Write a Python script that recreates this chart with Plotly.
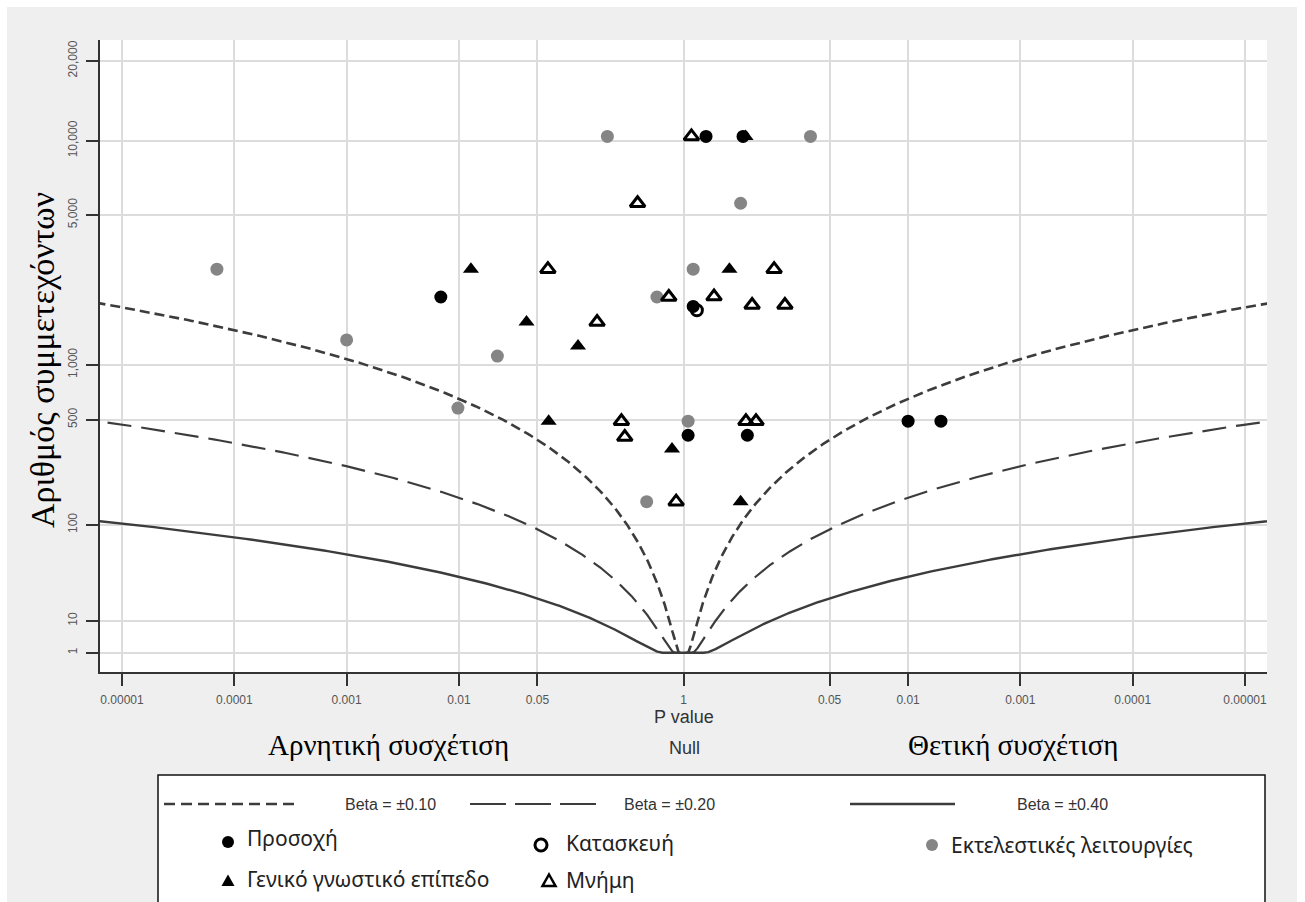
import math
import numpy as np
import plotly.graph_objects as go

# ---------------- data (p value, sample size, direction: -1 negative / +1 positive) -------------
attention_p = [0.63, 0.295, 0.0069, 0.82, 0.010, 0.0051, 0.91, 0.27]
attention_n = [10400, 10400, 2160, 1950, 490, 490, 405, 405]
attention_dir = [1, 1, -1, 1, 1, 1, 1, 1]

construct_p = [0.76]
construct_n = [1870]
construct_dir = [1]

exec_p = [0.21, 0.074, 0.00007, 0.31, 0.82, 0.58, 0.001, 0.022, 0.0098, 0.91, 0.47]
exec_n = [10400, 10400, 2900, 5600, 2900, 2160, 1340, 1110, 583, 490, 149]
exec_dir = [-1, 1, -1, 1, 1, -1, -1, -1, -1, 1, -1]

general_p = [0.28, 0.0128, 0.39, 0.040, 0.115, 0.063, 0.79, 0.31]
general_n = [10400, 2900, 2900, 1640, 1250, 490, 334, 149]
general_dir = [1, -1, 1, -1, -1, -1, -1, 1]

memory_p = [0.85, 0.39, 0.062, 0.156, 0.74, 0.535, 0.245, 0.125, 0.17, 0.28, 0.30, 0.278, 0.226, 0.86]
memory_n = [10400, 5600, 2900, 2900, 2160, 2170, 1980, 1980, 1640, 490, 395, 490, 490, 149]
memory_dir = [1, -1, -1, 1, -1, 1, 1, 1, -1, -1, -1, 1, 1, -1]

betas = [0.10, 0.20, 0.40]
beta_labels = ["Beta = \u00b10.10", "Beta = \u00b10.20", "Beta = \u00b10.40"]

p_ticks = [0.00001, 0.0001, 0.001, 0.01, 0.05, 1, 0.05, 0.01, 0.001, 0.0001, 0.00001]
p_tick_dir = [-1, -1, -1, -1, -1, 0, 1, 1, 1, 1, 1]
p_tick_text = ["0.00001", "0.0001", "0.001", "0.01", "0.05", "1", "0.05", "0.01", "0.001", "0.0001", "0.00001"]
n_ticks = [1, 10, 100, 500, 1000, 5000, 10000, 20000]
n_tick_text = ["1", "10", "100", "500", "1,000", "5,000", "10,000", "20,000"]


# ---------------- scale helpers ----------------
def xpos(p, d):
    return [di * -math.log10(pi) for pi, di in zip(p, d)]


def ypos(n):
    return [math.log10(v) ** 2 for v in n]


W, H = 1305, 902
L, R, T, B = 100, 38, 40, 230
PW, PH = W - L - R, H - T - B


def X(px):
    return (px - L) / PW


def Y(py):
    return (H - B - py) / PH


fig = go.Figure()

# contours
dashes = ["10px,5px", "24px,10px", "solid"]
widths = [2.6, 2.2, 2.4]
for b, dsh, w in zip(betas, dashes, widths):
    n = np.logspace(0, 4.7, 900)
    z = b * np.sqrt(n) / math.sqrt(1 - b * b)
    p = np.array([math.erfc(v / math.sqrt(2)) for v in z])
    keep = p > 1e-7
    n, p = n[keep], p[keep]
    lp = -np.log10(p)
    xs = np.concatenate([-lp[::-1], lp])
    ys = np.concatenate([(np.log10(n) ** 2)[::-1], np.log10(n) ** 2])
    fig.add_trace(go.Scatter(x=xs, y=ys, mode="lines",
                             line=dict(color="#3c3c3c", width=w, dash=dsh),
                             hoverinfo="skip"))

# studies
fig.add_trace(go.Scatter(x=xpos(exec_p, exec_dir), y=ypos(exec_n), mode="markers",
                         marker=dict(symbol="circle", size=13, color="#858585")))
fig.add_trace(go.Scatter(x=xpos(attention_p, attention_dir), y=ypos(attention_n), mode="markers",
                         marker=dict(symbol="circle", size=13, color="#000000")))
fig.add_trace(go.Scatter(x=xpos(construct_p, construct_dir), y=ypos(construct_n), mode="markers",
                         marker=dict(symbol="circle-open", size=11, color="#000000", line=dict(width=3))))
fig.add_trace(go.Scatter(x=xpos(general_p, general_dir), y=ypos(general_n), mode="markers",
                         marker=dict(symbol="triangle-up", size=14, color="#000000")))
fig.add_trace(go.Scatter(x=xpos(memory_p, memory_dir), y=ypos(memory_n), mode="markers",
                         marker=dict(symbol="triangle-up-open", size=13, color="#000000", line=dict(width=3))))

tickx = [-v if d < 0 else v for v, d in zip([-math.log10(p) for p in p_ticks], p_tick_dir)]
ticky = ypos(n_ticks)

tickfont = dict(family="Liberation Sans, Arial", size=12, color="#555555")

fig.update_xaxes(range=[-5.196, 5.196], tickmode="array", tickvals=tickx, ticktext=p_tick_text,
                 showgrid=True, gridcolor="#dcdcdc", gridwidth=2, zeroline=False,
                 showline=True, linecolor="#333333", linewidth=2,
                 ticks="outside", ticklen=12, tickwidth=2, tickcolor="#333333",
                 tickfont=tickfont, ticklabelstandoff=4)
fig.update_yaxes(range=[-0.6, 19.15], tickmode="array", tickvals=ticky, ticktext=n_tick_text,
                 showgrid=True, gridcolor="#dcdcdc", gridwidth=2, zeroline=False,
                 showline=True, linecolor="#333333", linewidth=2,
                 ticks="outside", ticklen=12, tickwidth=2, tickcolor="#333333",
                 tickangle=-90, tickfont=tickfont, ticklabelstandoff=4)

shapes = []
# white outer border strips
shapes.append(dict(type="rect", xref="paper", yref="paper", x0=X(0), x1=X(7), y0=Y(H), y1=Y(0),
                   fillcolor="white", line=dict(width=0), layer="below"))
shapes.append(dict(type="rect", xref="paper", yref="paper", x0=X(0), x1=X(W), y0=Y(7), y1=Y(0),
                   fillcolor="white", line=dict(width=0), layer="below"))
shapes.append(dict(type="rect", xref="paper", yref="paper", x0=X(1297), x1=X(W), y0=Y(H), y1=Y(0),
                   fillcolor="white", line=dict(width=0), layer="below"))
# legend box
shapes.append(dict(type="rect", xref="paper", yref="paper", x0=X(158), x1=X(1265), y0=Y(906), y1=Y(775),
                   fillcolor="white", line=dict(color="#111111", width=1.5)))

annotations = []
serif = "Liberation Serif, Times New Roman, serif"
sans = "Liberation Sans, Arial, sans-serif"
noto = "Noto Sans, Open Sans, sans-serif"


def ann(text, px, py, size, family, color="#222222", xanchor="center", angle=0):
    annotations.append(dict(text=text, x=X(px), y=Y(py), xref="paper", yref="paper",
                            showarrow=False, xanchor=xanchor, yanchor="middle", textangle=angle,
                            font=dict(size=size, family=family, color=color)))


ann("P value", 684, 717, 18, sans, "#333333")
ann("Null", 684, 748, 18, sans, "#333333")
ann("Αρνητική συσχέτιση", 388, 745, 29, serif, "#000000")
ann("Θετική συσχέτιση", 1013, 745, 29, serif, "#000000")
ann("Αριθμός συμμετεχόντων", 42, 360, 34, serif, "#000000", angle=-90)

# legend: line samples
line_rows = [(164, 296, 343), (470, 605, 622), (850, 955, 1015)]
leg_dashes = ["11px,6px", "36px,9px", "solid"]
for (x0, x1, tx), dsh, w, lab in zip(line_rows, leg_dashes, widths, beta_labels):
    shapes.append(dict(type="line", xref="paper", yref="paper", x0=X(x0), x1=X(x1), y0=Y(804), y1=Y(804),
                       line=dict(color="#3c3c3c", width=w, dash=dsh)))
    ann(lab, tx, 804, 16, sans, "#333333", xanchor="left")


def leg_circle(px, py, fill, open_=False):
    r = 6
    shapes.append(dict(type="circle", xref="paper", yref="paper", xsizemode="pixel", ysizemode="pixel",
                       xanchor=X(px), yanchor=Y(py), x0=-r, x1=r, y0=-r, y1=r,
                       fillcolor="white" if open_ else fill,
                       line=dict(color=fill, width=3 if open_ else 0)))


def leg_tri(px, py, open_=False):
    shapes.append(dict(type="path", xref="paper", yref="paper", xsizemode="pixel", ysizemode="pixel",
                       xanchor=X(px), yanchor=Y(py), path="M -6.5,-5 L 6.5,-5 L 0,6.5 Z",
                       fillcolor="white" if open_ else "black",
                       line=dict(color="black", width=2.5 if open_ else 0)))


leg_circle(228, 842, "black")
ann("Προσοχή", 245, 838, 21, noto, "#222222", xanchor="left")
leg_circle(541, 845, "black", open_=True)
ann("Κατασκευή", 564, 843, 21, noto, "#222222", xanchor="left")
leg_circle(932, 845, "#858585")
ann("Εκτελεστικές λειτουργίες", 949, 845, 21, noto, "#222222", xanchor="left")
leg_tri(228, 881)
ann("Γενικό γνωστικό επίπεδο", 245, 879, 21, noto, "#222222", xanchor="left")
leg_tri(549, 881, open_=True)
ann("Μνήμη", 564, 880, 21, noto, "#222222", xanchor="left")

fig.update_layout(width=W, height=H, margin=dict(l=L, r=R, t=T, b=B),
                  paper_bgcolor="#efefef", plot_bgcolor="white", showlegend=False,
                  shapes=shapes, annotations=annotations)

fig.write_html("out.html")
